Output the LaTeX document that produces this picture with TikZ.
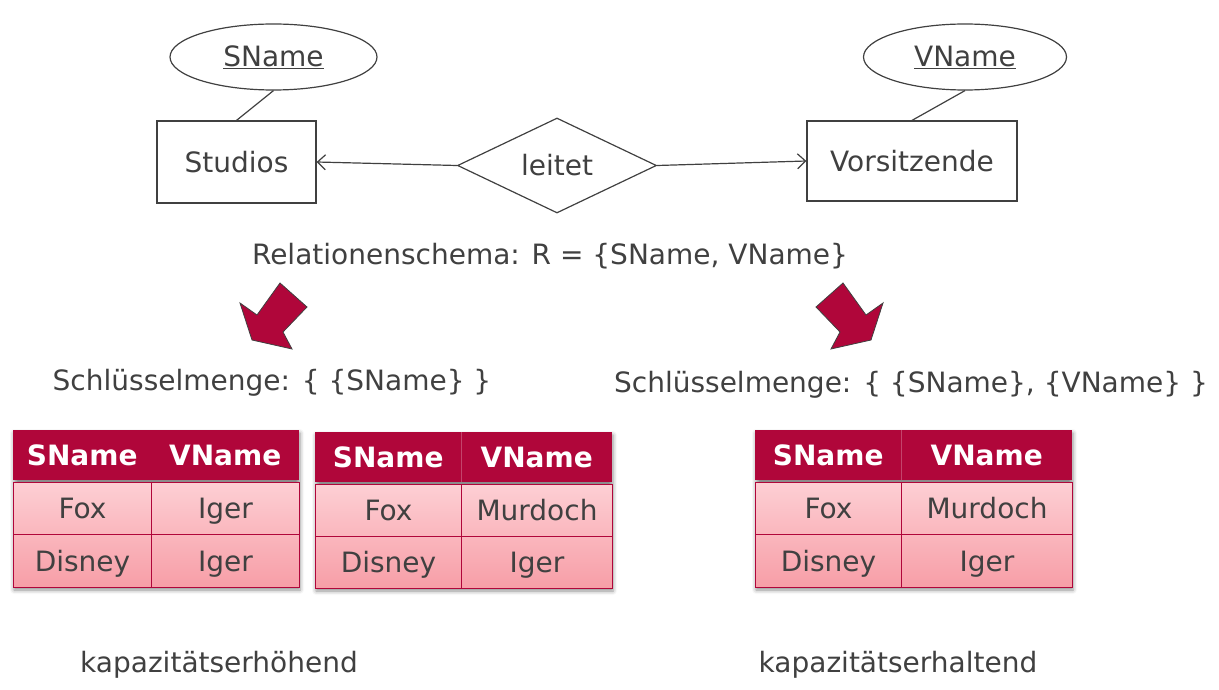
\documentclass[tikz,border=0pt]{standalone}
\usepackage{fontspec}
\setmainfont{DejaVu Sans}
\usetikzlibrary{shapes.geometric,arrows.meta,shadows.blur}
\definecolor{crim}{HTML}{B0063A}
\definecolor{txt}{HTML}{404040}
\definecolor{pinkA}{HTML}{FDCFD4}
\definecolor{pinkB}{HTML}{FAB6BD}
\definecolor{pinkC}{HTML}{F79EA7}
\begin{document}
\begin{tikzpicture}[x=1pt,y=-1pt,
  every node/.style={text=txt, font=\fontsize{28}{33}\selectfont},
  ent/.style={draw=txt, line width=1.2pt, rectangle, inner sep=0pt},
  attr/.style={draw=txt, line width=1.2pt, ellipse, inner sep=0pt, minimum height=66pt},
  rel/.style={draw=txt, line width=1.2pt, diamond, inner sep=0pt, minimum width=199pt, minimum height=95pt},
  conn/.style={draw=txt, line width=1.2pt},
  arr/.style={conn, -{Straight Barb[length=8pt,width=15pt,line width=1.2pt]}},
  cellt/.style={text height=26pt, text depth=6pt},
  hcell/.style={cellt, fill=crim, text=white, font=\fontsize{28}{33}\selectfont\bfseries, inner sep=0pt, anchor=north west, minimum height=50pt},
  bcell/.style={cellt, draw=crim, line width=1pt, inner sep=0pt, anchor=north west},
  rowa/.style={bcell, top color=pinkA, bottom color=pinkB},
  rowb/.style={bcell, top color=pinkB, bottom color=pinkC},
  hdiv/.style={draw=crim!75!white, line width=0.8pt},
  tshadow/.style={blur shadow={shadow xshift=1pt, shadow yshift=-3pt, shadow blur radius=4pt, shadow opacity=45}},
  bigarrow/.style={fill=crim, draw=txt, line width=0.8pt, line join=miter},
]
\useasboundingbox (0,0) rectangle (1219,690);

% ER diagram
\node[attr, minimum width=207pt] (as) at (273.5,57) {\underline{SName}};
\node[ent, minimum width=159pt, minimum height=82pt] (st) at (236.5,162) {Studios};
\node[rel] (lt) at (557,165.5) {leitet};
\node[ent, minimum width=210pt, minimum height=80pt] (vs) at (912,161) {Vorsitzende};
\node[attr, minimum width=203pt] (av) at (965,57) {\underline{VName}};
\draw[conn] (as.south) -- (st.north);
\draw[conn] (av.south) -- (vs.north);
\draw[arr] (lt.west) -- (st.east);
\draw[arr] (lt.east) -- (vs.west);

\node (rs) at (550,256) {Relationenschema: R = \{SName, VName\}};

% big arrows
\draw[bigarrow] (280,283) -- (307,307) -- (283,332) -- (292,349) -- (252,340) -- (240,303) -- (257,315) -- cycle;
\draw[bigarrow] (843,283) -- (816,307) -- (840,332) -- (831,349) -- (871,340) -- (883,303) -- (866,315) -- cycle;

\node (k1) at (272,383) {Schlüsselmenge: \{ \{SName\} \}};
\node (k2) at (911,385) {Schlüsselmenge: \{ \{SName\}, \{VName\} \}};

% table 1
\path[tshadow] (13,430) rectangle (299,587);
\node[hcell, minimum width=138pt] (a11) at (13,430) {SName};
\node[hcell, minimum width=148pt] (a12) at (151,430) {VName};
\node[rowa, minimum width=138pt, minimum height=52pt] (a21) at (13,482) {Fox};
\node[rowa, minimum width=148pt, minimum height=52pt] (a22) at (151,482) {Iger};
\node[rowb, minimum width=138pt, minimum height=53pt] (a31) at (13,534) {Disney};
\node[rowb, minimum width=148pt, minimum height=53pt] (a32) at (151,534) {Iger};

% table 2
\path[tshadow] (315,432) rectangle (612,588);
\node[hcell, minimum width=146pt] (b11) at (315,432) {SName};
\node[hcell, minimum width=151pt] (b12) at (461,432) {VName};
\draw[hdiv] (b11.north east) -- (b11.south east);
\node[rowa, minimum width=146pt, minimum height=52pt] (b21) at (315,484) {Fox};
\node[rowa, minimum width=151pt, minimum height=52pt] (b22) at (461,484) {Murdoch};
\node[rowb, minimum width=146pt, minimum height=52pt] (b31) at (315,536) {Disney};
\node[rowb, minimum width=151pt, minimum height=52pt] (b32) at (461,536) {Iger};

% table 3
\path[tshadow] (755,430) rectangle (1072,587);
\node[hcell, minimum width=146pt] (c11) at (755,430) {SName};
\node[hcell, minimum width=171pt] (c12) at (901,430) {VName};
\draw[hdiv] (c11.north east) -- (c11.south east);
\node[rowa, minimum width=146pt, minimum height=52pt] (c21) at (755,482) {Fox};
\node[rowa, minimum width=171pt, minimum height=52pt] (c22) at (901,482) {Murdoch};
\node[rowb, minimum width=146pt, minimum height=53pt] (c31) at (755,534) {Disney};
\node[rowb, minimum width=171pt, minimum height=53pt] (c32) at (901,534) {Iger};

\node (l1) at (219,665) {kapazitätserhöhend};
\node (l2) at (898,665) {kapazitätserhaltend};
\end{tikzpicture}
\end{document}
